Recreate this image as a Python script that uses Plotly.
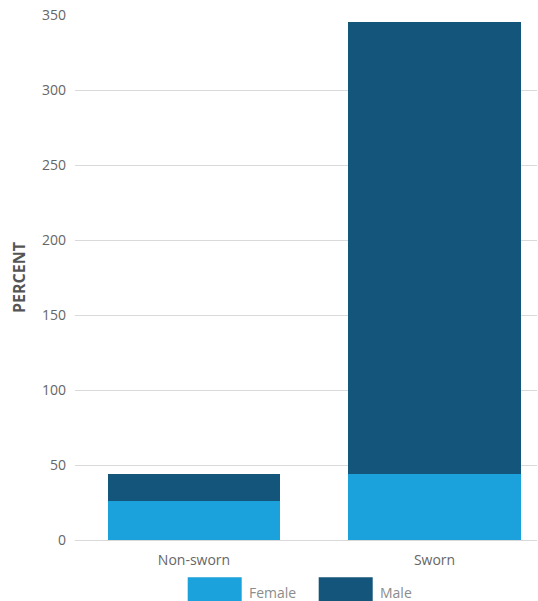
import plotly.graph_objects as go

categories = ["Non-sworn", "Sworn"]
series_names = ["Female", "Male"]
female = [25.8, 43.8]
male = [18.0, 301.6]
y_ticks = [0, 50, 100, 150, 200, 250, 300, 350]
colors = ["#1ba1db", "#13557b"]

fig = go.Figure()
for name, vals, col in zip(series_names, [female, male], colors):
    fig.add_trace(go.Bar(x=categories, y=vals, name=name, marker=dict(color=col, line=dict(width=0)),
                         width=0.718, showlegend=False))

W, H = 538, 601
PL, PR, PT, PB = 75, 537, 15, 539.7
pw, ph = PR - PL, PB - PT

def px(x):
    return (x - PL) / pw

def py(y):
    return (PB - y) / ph

# legend drawn manually (large swatches)
leg_x = [187.7, 318.7]
shapes = []
annotations = []
for name, col, lx in zip(series_names, colors, leg_x):
    shapes.append(dict(type="rect", xref="paper", yref="paper",
                       x0=px(lx), x1=px(lx + 54), y0=py(606), y1=py(577),
                       fillcolor=col, line=dict(width=0), layer="above"))
    annotations.append(dict(text=name, xref="paper", yref="paper",
                            x=px(lx + 59), y=py(592),
                            xanchor="left", yanchor="middle", showarrow=False,
                            font=dict(family="Open Sans", size=14, color="#8c8c8c")))

fig.update_layout(
    width=W, height=H,
    margin=dict(l=PL, r=W - PR, t=PT, b=H - PB),
    plot_bgcolor="white", paper_bgcolor="white",
    barmode="stack",
    font=dict(family="Open Sans", size=14, color="#666666"),
    shapes=shapes, annotations=annotations,
    xaxis=dict(range=[-0.4948, 1.426], showgrid=False, zeroline=False, showline=False,
               ticks="", tickfont=dict(size=14, color="#666666"), ticklabelstandoff=10),
    yaxis=dict(range=[0, 350], tickvals=y_ticks, showgrid=True, gridcolor="#d9d9d9", gridwidth=1,
               zeroline=True, zerolinecolor="#d9d9d9", zerolinewidth=1, showline=False,
               ticks="", ticklabelstandoff=8, tickfont=dict(size=14, color="#666666"),
               title=dict(text="<b>PERCENT</b>", font=dict(size=16, color="#555555"), standoff=12)),
)

fig.write_html("out.html", config={"displayModeBar": False},
               post_script="document.body.style.margin='0';document.body.style.overflow='hidden';")
